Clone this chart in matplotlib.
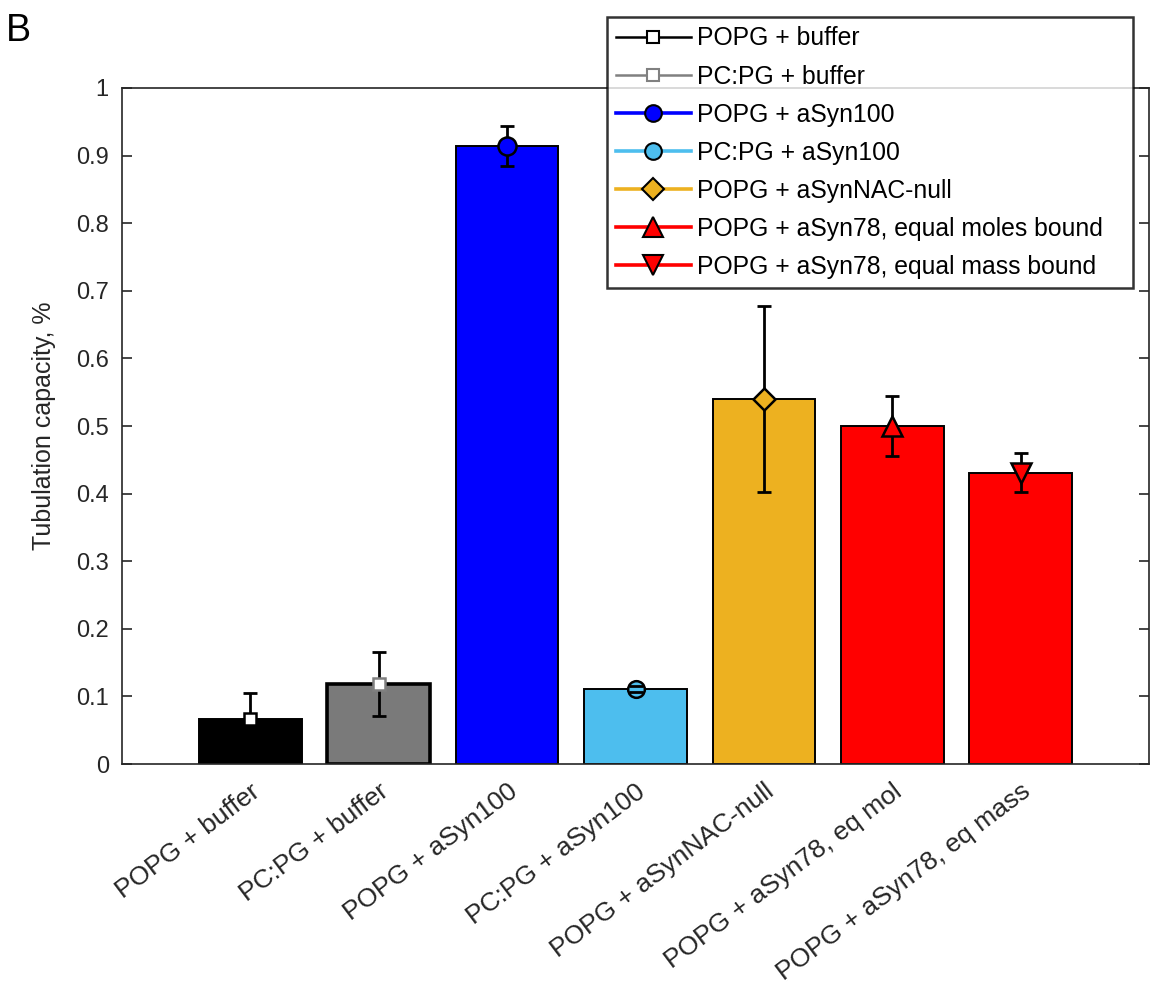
import numpy as np
import matplotlib.pyplot as plt
from matplotlib.lines import Line2D

plt.rcParams['font.family'] = ['Liberation Sans', 'DejaVu Sans']

# tubulation capacity per condition (mean and error)
categories = ['POPG + buffer', 'PC:PG + buffer', 'POPG + aSyn100', 'PC:PG + aSyn100',
              'POPG + aSynNAC-null', 'POPG + aSyn78, eq mol', 'POPG + aSyn78, eq mass']
legend_labels = ['POPG + buffer', 'PC:PG + buffer', 'POPG + aSyn100', 'PC:PG + aSyn100',
                 'POPG + aSynNAC-null', 'POPG + aSyn78, equal moles bound',
                 'POPG + aSyn78, equal mass bound']
means = [0.066, 0.118, 0.914, 0.111, 0.540, 0.500, 0.431]
errors = [0.039, 0.047, 0.030, 0.004, 0.137, 0.044, 0.029]

# styling
bar_colors = ['#000000', '#7a7a7a', '#0000ff', '#4dbeee', '#edb120', '#ff0000', '#ff0000']
line_colors = ['#000000', '#808080', '#0000ff', '#4dbeee', '#edb120', '#ff0000', '#ff0000']
marker_faces = ['white', 'white', '#0000ff', '#4dbeee', '#edb120', '#ff0000', '#ff0000']
marker_edges = ['black', '#808080', 'black', 'black', 'black', 'black', 'black']
markers = ['s', 's', 'o', 'o', 'D', '^', 'v']
msizes = [8.5, 8.5, 13, 12, 11, 14, 14]
leg_msizes = [8.5, 8.5, 12, 12, 11, 14, 14]
bar_lw = [1.4, 2.6, 1.4, 1.4, 1.4, 1.4, 1.4]

axis_col = '#262626'

fig = plt.figure(figsize=(11.51, 10.02), dpi=100)
ax = fig.add_axes([0.106, 0.2375, 0.8923, 0.6747])

x = np.arange(1, len(means) + 1)
for i in range(len(means)):
    ax.bar(x[i], means[i], width=0.8, color=bar_colors[i], edgecolor='black',
           linewidth=bar_lw[i], zorder=2)
    eb = ax.errorbar(x[i], means[i], yerr=errors[i], fmt='none', ecolor='black',
                     elinewidth=2.0, capsize=4.8, capthick=2.0, zorder=3)
    for cap in eb[1]:
        cap.set_zorder(5)
    ax.plot(x[i], means[i], linestyle='none', marker=markers[i], markersize=msizes[i],
            markerfacecolor=marker_faces[i], markeredgecolor=marker_edges[i],
            markeredgewidth=1.8, zorder=4)

ax.set_xlim(0, 8)
ax.set_ylim(0, 1)
ax.set_yticks(np.arange(0, 1.01, 0.1))
ax.set_yticklabels(['0', '0.1', '0.2', '0.3', '0.4', '0.5', '0.6', '0.7', '0.8', '0.9', '1'])
ax.set_xticks(x)
ax.set_xticklabels(categories, rotation=37, ha='right', va='top', rotation_mode='anchor')

ax.tick_params(axis='x', length=0, pad=11, labelsize=19, labelcolor=axis_col)
ax.tick_params(axis='y', direction='in', length=7, width=1.2, color=axis_col,
               labelsize=17, labelcolor=axis_col, right=True, pad=9.5)
for sp in ax.spines.values():
    sp.set_color(axis_col)
    sp.set_linewidth(1.2)

ax.set_ylabel('Tubulation capacity, %', fontsize=18, color=axis_col, labelpad=14)

handles = []
for i in range(len(legend_labels)):
    handles.append(Line2D([], [], color=line_colors[i], linewidth=2.6 if i > 1 else 1.8,
                          marker=markers[i], markersize=leg_msizes[i],
                          markerfacecolor=marker_faces[i], markeredgecolor=marker_edges[i],
                          markeredgewidth=1.5))
# legend box spans a fixed region, entries packed to the left
leg_x0, leg_x1 = 607 / 1151, 1133 / 1151
leg = fig.legend(handles, legend_labels, loc='upper left',
                 bbox_to_anchor=(leg_x0, 0.5, leg_x1 - leg_x0, 0.483), mode='expand',
                 fontsize=17.8, frameon=True, fancybox=False, handlelength=3.0,
                 handletextpad=0.28, labelspacing=0.57, borderpad=0.38, borderaxespad=0)
leg.get_frame().set_edgecolor('black')
leg.get_frame().set_linewidth(1.8)

fig.text(0.005, 0.987, 'B', fontsize=27, ha='left', va='top')

fig.savefig('out.png', dpi=100)
